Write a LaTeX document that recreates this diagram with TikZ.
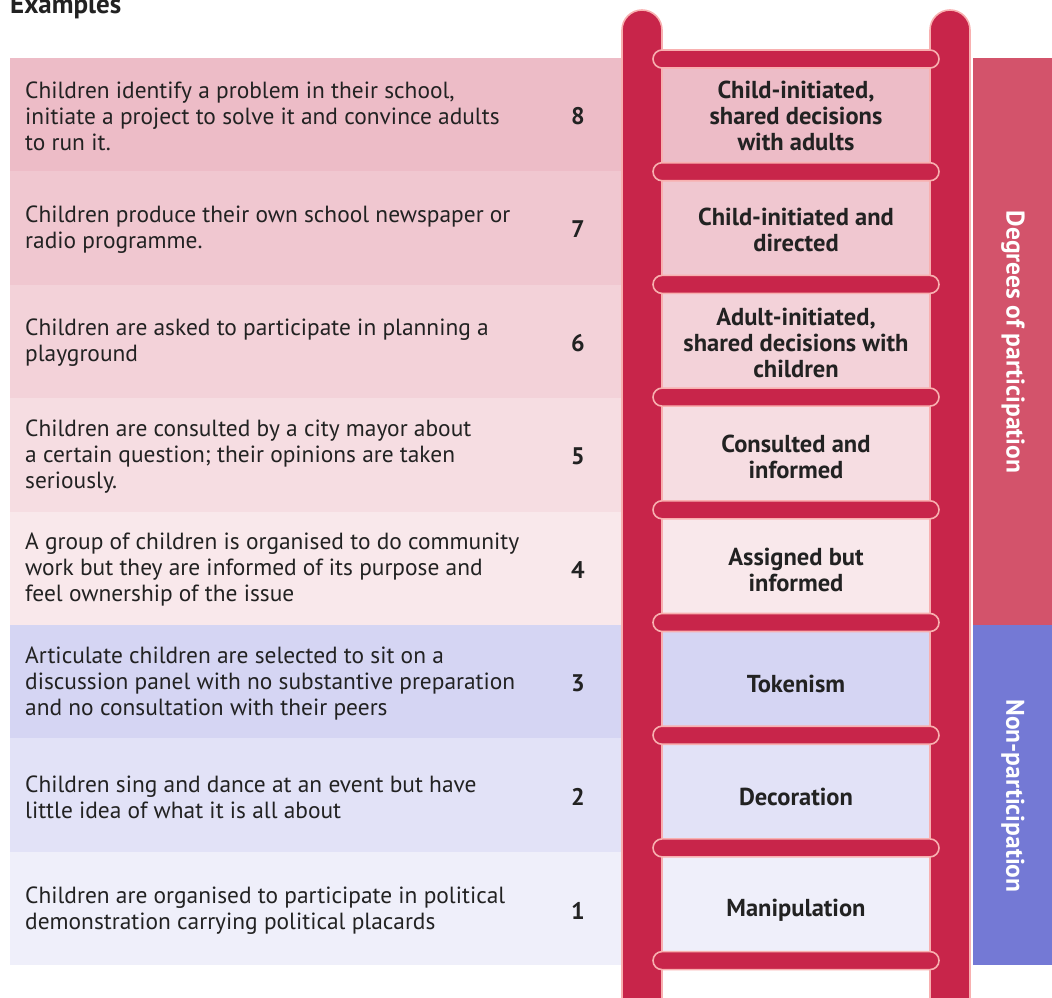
\documentclass[tikz,border=0pt]{standalone}
\usepackage{fontspec}
\setmainfont{PT Sans}
\definecolor{railc}{HTML}{C8254A}
\definecolor{railo}{HTML}{F8B0B0}
\definecolor{rA}{HTML}{EDBCC7}
\definecolor{rB}{HTML}{F0C7D0}
\definecolor{rC}{HTML}{F3D2D9}
\definecolor{rD}{HTML}{F6DDE2}
\definecolor{rE}{HTML}{F9E8EB}
\definecolor{rF}{HTML}{D5D5F3}
\definecolor{rG}{HTML}{E2E2F7}
\definecolor{rH}{HTML}{EFEFFA}
\definecolor{barP}{HTML}{D3536B}
\definecolor{barN}{HTML}{7479D5}
\definecolor{txt}{HTML}{222222}
\tikzset{
  rowtext/.style={anchor=west,align=left,inner sep=0pt,text=txt,font=\fontsize{23.4}{26}\selectfont},
  numtext/.style={inner sep=0pt,text=txt,font=\fontsize{24}{26}\selectfont\bfseries},
  rungtext/.style={inner sep=0pt,align=center,text=txt,font=\fontsize{24.5}{26}\selectfont\bfseries},
  bartext/.style={inner sep=0pt,rotate=-90,text=white,font=\fontsize{25.5}{26}\selectfont\bfseries},
  rail/.style={fill=railc,draw=railo,line width=1.6pt,rounded corners=20pt},
  rung/.style={fill=railc,draw=railo,line width=1.6pt,rounded corners=9pt},
}
\begin{document}
\begin{tikzpicture}[x=1pt,y=-1pt]
\useasboundingbox (0,0) rectangle (1052,998);
\clip (0,0) rectangle (1052,998);
\node[anchor=base west,inner sep=0pt,text=txt,font=\fontsize{27}{28}\selectfont\bfseries] (title) at (10,14) {Examples};
% rows
\def\rh{113.375}
\foreach \i/\c in {0/rA,1/rB,2/rC,3/rD,4/rE,5/rF,6/rG,7/rH}{
  \fill[\c] (10,{58+\i*\rh}) rectangle (935,{58+(\i+1)*\rh});
}
\fill[barP] (973,58) rectangle (1052,625);
\fill[barN] (973,625) rectangle (1052,965);
% rails
\draw[rail] (622,10) rectangle (662,1040);
\draw[rail] (930,10) rectangle (970,1040);
% rungs
\foreach \k in {0,...,8}{
  \draw[rung] (653,{59+\k*112.7-9}) rectangle (939,{59+\k*112.7+9});
}
% texts
\node[rowtext] (t8) at (25,116) {Children identify a problem in their school,\\initiate a project to solve it and convince adults\\to run it.};
\node[rowtext] (t7) at (25,229.5) {Children produce their own school newspaper or\\radio programme.};
\node[rowtext] (t6) at (25,343) {Children are asked to participate in planning a\\playground};
\node[rowtext] (t5) at (25,456.5) {Children are consulted by a city mayor about\\a certain question; their opinions are taken\\seriously.};
\node[rowtext] (t4) at (25,570) {A group of children is organised to do community\\work but they are informed of its purpose and\\feel ownership of the issue};
\node[rowtext] (t3) at (25,683.5) {Articulate children are selected to sit on a\\discussion panel with no substantive preparation\\and no consultation with their peers};
\node[rowtext] (t2) at (25,797) {Children sing and dance at an event but have\\little idea of what it is all about};
\node[rowtext] (t1) at (25,910.5) {Children are organised to participate in political\\demonstration carrying political placards};
\foreach \n [count=\j from 0] in {8,7,6,5,4,3,2,1}{
  \node[numtext] (n\n) at (578,{116+\j*113.5}) {\n};
}
\node[rungtext] (l8) at (796,116) {Child-initiated,\\shared decisions\\with adults};
\node[rungtext] (l7) at (796,229.5) {Child-initiated and\\directed};
\node[rungtext] (l6) at (796,343) {Adult-initiated,\\shared decisions with\\children};
\node[rungtext] (l5) at (796,456.5) {Consulted and\\informed};
\node[rungtext] (l4) at (796,570) {Assigned but\\informed};
\node[rungtext] (l3) at (796,683.5) {Tokenism};
\node[rungtext] (l2) at (796,797) {Decoration};
\node[rungtext] (l1) at (796,910.5) {Manipulation};
\node[bartext] (dp) at (1013,342) {Degrees of participation};
\node[bartext] (np) at (1013,796) {Non-participation};
\end{tikzpicture}
\end{document}
